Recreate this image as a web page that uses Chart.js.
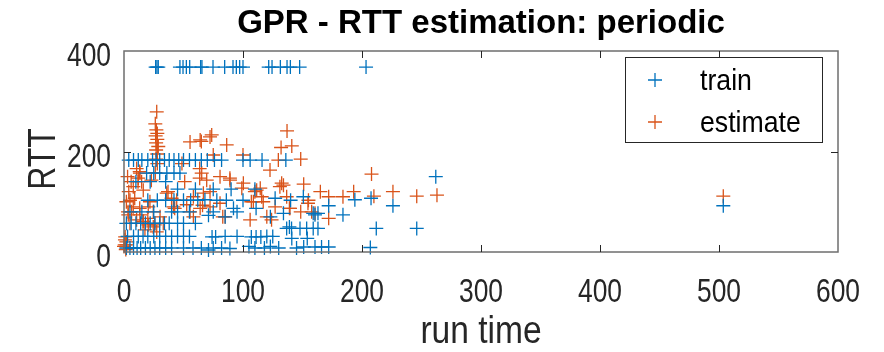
<!DOCTYPE html>
<html>
<head>
<meta charset="utf-8">
<script src="https://cdn.jsdelivr.net/npm/chart.js@4/dist/chart.umd.min.js"></script>
<style>
    html, body { margin: 0; padding: 0; background: #fff; }
    #wrap { width: 884px; height: 352px; }
</style>
</head>
<body>
<div id="wrap"><canvas id="rttChart" width="884" height="352"></canvas></div>
<script>
const chartTitle = "GPR - RTT estimation: periodic";
const xLabel = "run time";
const yLabel = "RTT";
const seriesNames = ["train", "estimate"];
const xTicks = [0, 100, 200, 300, 400, 500, 600];
const yTicks = [0, 200, 400];

// [run time, RTT]
const trainPoints = [
    [26.6, 368], [27.7, 368], [28.8, 368], [47, 368], [49.6, 368], [52.4, 368], [55.2, 368],
    [64.4, 368], [65.5, 368], [74.8, 368], [84.6, 368], [91.6, 368], [94.4, 368], [97.2, 368],
    [100, 368], [121.6, 368], [124.4, 368], [131.4, 368], [137, 368], [139.8, 368], [147.6, 368],
    [203.4, 368],
    [4, 183], [8, 183], [12, 183], [15, 183], [20, 183], [24, 183], [27, 183], [30, 183],
    [34, 183], [38, 183], [42, 183], [46, 183], [50, 183], [55, 183], [60, 183], [65, 183],
    [70, 183], [76, 183], [82, 183], [100, 183], [106, 183], [116, 183], [136, 183],
    [19, 157], [25, 157], [30, 157], [36, 157], [42, 157], [47, 157],
    [10, 140], [22, 140], [35, 140],
    [45, 125], [60, 125], [75, 125], [90, 125], [110, 125],
    [20, 103], [28, 103], [35, 103], [42, 103], [50, 103], [56, 103], [62, 103], [68, 104],
    [78, 103], [86, 103], [100, 103], [127, 107], [140, 103],
    [92, 87], [111, 87],
    [5, 80], [15, 80], [25, 80], [40, 80], [45, 80], [55, 80], [75, 80], [95, 80],
    [71, 73], [85, 70], [123, 70],
    [2, 57], [6, 57], [10, 57], [14, 57], [18, 57], [22, 57], [26, 57], [30, 57],
    [34, 57], [38, 57], [45, 57], [50, 57], [60, 57], [139, 50],
    [3, 31], [8, 31], [12, 31], [16, 31], [20, 31], [25, 31], [30, 31], [35, 31],
    [40, 31], [45, 31], [50, 31], [55, 31], [74, 30], [77, 30], [85, 31], [95, 31],
    [107, 30], [111, 30], [115, 30], [120, 31], [125, 31],
    [2, 8], [5, 8], [8, 8], [11, 8], [14, 8], [18, 8], [22, 8], [26, 8], [30, 8],
    [35, 8], [40, 8], [50, 8], [58, 8], [65, 8], [71, 4], [75, 8], [82, 8], [89, 7],
    [105, 11], [110, 8], [118, 8], [123, 11], [130, 8], [145, 8],
    [150.7, 110], [134, 77], [159, 77], [163, 77], [160.5, 74], [184, 74],
    [136.7, 47], [140.8, 47], [147.9, 47], [153.5, 47], [159, 47], [163, 47],
    [141, 27], [154, 27], [151, 10], [160.5, 10], [166, 10], [172, 10],
    [207, 9], [212, 47], [246, 47], [226, 92], [207.6, 107], [194, 104], [172, 92],
    [262, 150], [503.6, 92]
];

const estimatePoints = [
    [27.5, 279], [26.3, 255], [27.2, 243], [28, 236], [26.6, 231], [28, 224], [27, 217],
    [28.8, 210], [27, 203], [28, 195], [27, 185], [28, 176],
    [55.5, 219], [64, 223], [72.3, 229], [86.3, 213], [73.7, 233], [65, 220],
    [48.7, 176], [63.6, 166], [13.2, 160], [26.3, 158],
    [137, 241], [132, 208], [141, 211], [148.5, 185], [129.7, 183], [100, 193], [75, 193],
    [122.7, 163], [208, 155], [151, 135], [134, 133], [165, 120], [172, 110], [184, 110],
    [193, 120], [210, 111], [226, 120], [246, 111], [263, 113],
    [139.5, 87], [148.5, 80], [157.7, 80], [160.5, 77], [172, 67], [136.7, 110],
    [154.6, 97], [155, 103],
    [10.6, 166], [13.4, 157], [12, 147], [14.8, 140], [7.8, 130], [16.2, 123], [5, 103],
    [7.8, 90], [6.4, 80], [3.6, 74], [10.6, 64], [16.2, 61], [20.4, 54], [24.6, 50],
    [17.6, 44], [27.5, 40], [33, 57], [35.9, 117], [44.3, 103], [41.5, 90], [52.7, 94],
    [58.3, 110], [66.7, 117], [72.3, 120], [65.3, 157], [80.7, 150], [89.1, 143],
    [100.3, 137], [111.5, 123], [132.5, 137], [115.7, 110], [108.7, 100], [120, 70],
    [124, 64], [85, 70], [55.5, 80], [58.3, 70], [64, 87], [80.7, 97], [72.3, 90],
    [0.8, 24], [2.2, 14], [0, 11], [5, 57], [20.4, 90], [24.6, 80], [13.4, 74],
    [21.8, 100], [30.3, 70],
    [69.5, 143], [89, 147], [99, 127], [110, 120], [114.5, 127], [107, 100], [117, 100],
    [131, 130], [139, 87], [66, 93], [83, 70], [106, 64], [127, 90],
    [11.8, 140], [23, 143], [9, 107], [13.2, 87], [20, 67], [25.8, 54], [16, 60],
    [3.4, 80], [0.6, 14], [2, 20], [40, 107], [37, 120], [51, 140], [63.6, 147], [42.6, 87],
    [2, 100], [4, 120], [3, 150], [6, 140], [1, 30], [1.5, 5],
    [503.6, 111]
];

const colors = ["#0072BD", "#D95319"];
const FONT = '"Liberation Sans", Arial, sans-serif';
const TEXT = "#262626";
const AXIS = "#6e6e6e";

function toXY(list) {
    return list.map(p => ({ x: p[0], y: p[1] }));
}

// the original's labels are tall and condensed, so squeeze them sideways
function squeezedText(ctx, str, x, y, size, squeeze, align) {
    ctx.save();
    ctx.translate(x, y);
    ctx.scale(squeeze, 1);
    ctx.font = size + "px " + FONT;
    ctx.textAlign = align;
    ctx.textBaseline = "alphabetic";
    ctx.fillText(str, 0, 0);
    ctx.restore();
}

// box, inward ticks, labels, title and legend drawn the way the original has them
const decorations = {
    id: "decorations",
    afterDraw(chart) {
        const ctx = chart.ctx;
        const a = chart.chartArea;
        const xs = chart.scales.x;
        const ys = chart.scales.y;
        ctx.save();

        ctx.strokeStyle = AXIS;
        ctx.lineWidth = 1.5;
        ctx.strokeRect(a.left, a.top, a.right - a.left, a.bottom - a.top);

        ctx.strokeStyle = TEXT;
        ctx.lineWidth = 1;
        ctx.beginPath();
        xTicks.slice(1, -1).forEach(v => {
            const px = Math.round(xs.getPixelForValue(v)) + 0.5;
            ctx.moveTo(px, a.bottom); ctx.lineTo(px, a.bottom - 7);
            ctx.moveTo(px, a.top); ctx.lineTo(px, a.top + 7);
        });
        yTicks.slice(1, -1).forEach(v => {
            const py = Math.round(ys.getPixelForValue(v)) + 0.5;
            ctx.moveTo(a.left, py); ctx.lineTo(a.left + 7, py);
            ctx.moveTo(a.right, py); ctx.lineTo(a.right - 7, py);
        });
        ctx.stroke();

        ctx.fillStyle = TEXT;
        xTicks.forEach(v => squeezedText(ctx, String(v), xs.getPixelForValue(v), 302, 33, 0.8, "center"));
        yTicks.forEach(v => squeezedText(ctx, String(v), a.left - 13, ys.getPixelForValue(v) + 15, 33, 0.8, "right"));
        squeezedText(ctx, xLabel, (a.left + a.right) / 2, 343, 39, 0.86, "center");

        ctx.save();
        ctx.translate(55, 159);
        ctx.rotate(-Math.PI / 2);
        squeezedText(ctx, yLabel, 0, 0, 39, 0.82, "center");
        ctx.restore();

        ctx.fillStyle = "#000";
        ctx.font = "bold 33px " + FONT;
        ctx.textAlign = "center";
        ctx.textBaseline = "alphabetic";
        ctx.fillText(chartTitle, (a.left + a.right) / 2, 33);

        // legend
        const lx = 625, ly = 57, lw = 197, lh = 85;
        ctx.fillStyle = "#fff";
        ctx.fillRect(lx, ly, lw, lh);
        ctx.strokeStyle = TEXT;
        ctx.lineWidth = 1;
        ctx.strokeRect(lx + 0.5, ly + 0.5, lw, lh);
        chart.data.datasets.forEach((ds, i) => {
            const cy = ly + 23 + i * 42;
            const cx = lx + 30;
            ctx.strokeStyle = ds.borderColor;
            ctx.lineWidth = 1.3;
            ctx.beginPath();
            ctx.moveTo(cx - 7, cy); ctx.lineTo(cx + 7, cy);
            ctx.moveTo(cx, cy - 7); ctx.lineTo(cx, cy + 7);
            ctx.stroke();
            ctx.fillStyle = "#000";
            squeezedText(ctx, ds.label, lx + 75, cy + 10, 29, 0.92, "left");
        });
        ctx.restore();
    }
};

new Chart(document.getElementById("rttChart"), {
    type: "scatter",
    data: {
        datasets: [
            { label: seriesNames[0], data: toXY(trainPoints), borderColor: colors[0] },
            { label: seriesNames[1], data: toXY(estimatePoints), borderColor: colors[1] }
        ].map(ds => Object.assign(ds, {
            backgroundColor: "transparent",
            pointStyle: "cross",
            pointRadius: 7,
            pointBorderWidth: 1.3,
            pointHoverRadius: 7,
            clip: false
        }))
    },
    options: {
        responsive: false,
        animation: false,
        events: [],
        layout: { padding: { left: 0, right: 46, top: 51, bottom: 0 } },
        plugins: { legend: { display: false }, title: { display: false }, tooltip: { enabled: false } },
        scales: {
            x: {
                type: "linear",
                min: 0, max: 600,
                afterBuildTicks: s => { s.ticks = xTicks.map(v => ({ value: v })); },
                afterFit: s => { s.height = 100; },
                grid: { display: false, drawTicks: false },
                border: { display: false },
                ticks: { display: false },
                title: { display: false }
            },
            y: {
                type: "linear",
                min: 0, max: 400,
                afterBuildTicks: s => { s.ticks = yTicks.map(v => ({ value: v })); },
                afterFit: s => { s.width = 124; },
                grid: { display: false, drawTicks: false },
                border: { display: false },
                ticks: { display: false },
                title: { display: false }
            }
        }
    },
    plugins: [decorations]
});
</script>
</body>
</html>
